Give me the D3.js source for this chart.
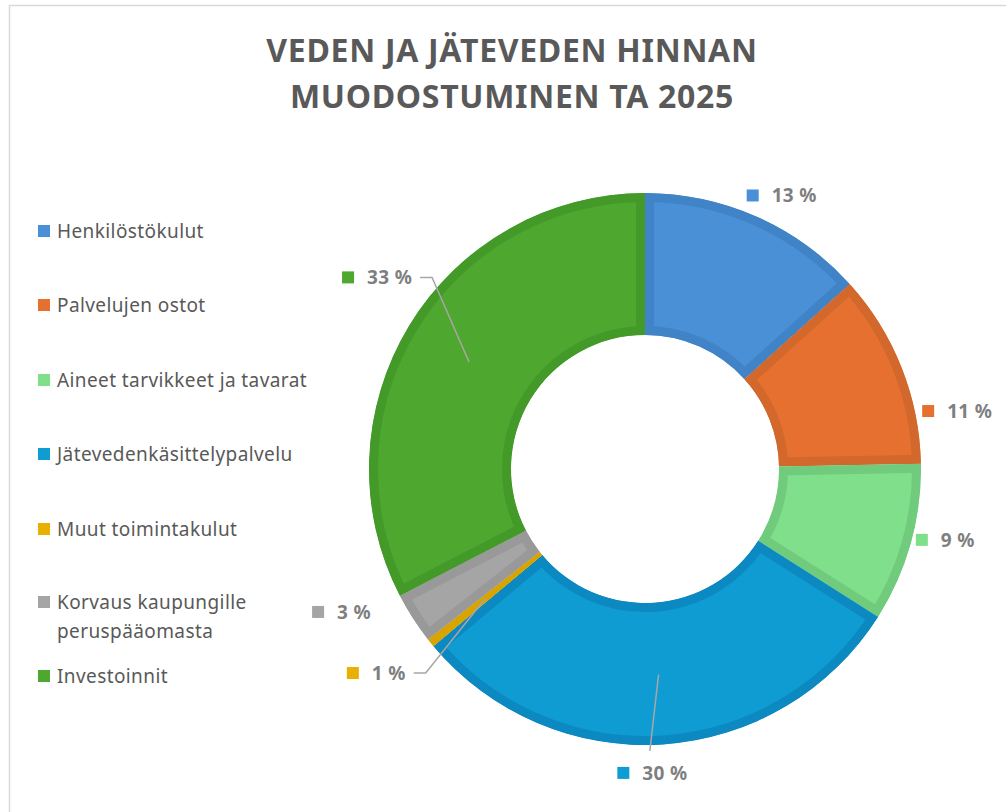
<!DOCTYPE html>
<html>
<head>
<meta charset="utf-8">
<script src="https://cdn.jsdelivr.net/npm/d3@7"></script>
<style>
  body { margin: 0; background: #fff; }
  text { font-family: "Noto Sans", "Open Sans", sans-serif; }
</style>
</head>
<body>
<script>
// data
var categories = ["Henkilöstökulut", "Palvelujen ostot", "Aineet tarvikkeet ja tavarat",
    "Jätevedenkäsittelypalvelu", "Muut toimintakulut", "Korvaus kaupungille peruspääomasta", "Investoinnit"];
var values = [13.3, 11.4, 9.3, 29.9, 0.5, 3.0, 32.6];
var valueLabels = ["13 %", "11 %", "9 %", "30 %", "1 %", "3 %", "33 %"];
var fills = ["#4a90d6", "#e6702f", "#80df8b", "#0f9cd3", "#e8b000", "#a5a5a5", "#4ea72e"];
var borders = ["#4083c6", "#d2682b", "#70cb7c", "#0c89c0", "#d9a300", "#999999", "#449a28"];

// label placement: angle nudge (deg) and radius per slice, leader yes/no
var labelNudge = [2.7, 11.1, -2.4, 2.3, 1.8, 7.5, 4.3];
var labelRad = [306, 318, 309, 304, 337, 335, 329];
var hasLeader = [false, false, false, true, true, false, true];

var width = 1006, height = 812;
var cx = 645, cy = 469, outerR = 276, innerR = 134;

var svg = d3.select("body").append("svg")
    .attr("width", width)
    .attr("height", height);

// chart border
svg.append("rect")
    .attr("x", 9.5).attr("y", 5.5)
    .attr("width", 1100).attr("height", 900)
    .attr("fill", "none")
    .attr("stroke", "#d9d9d9")
    .attr("stroke-width", 1.5);

// title
var title = svg.append("text")
    .attr("text-anchor", "middle")
    .attr("fill", "#595959")
    .style("font-size", "32px")
    .style("font-weight", "bold")
    .style("letter-spacing", "0.7px");
title.append("tspan").attr("x", 512).attr("y", 62).text("VEDEN JA JÄTEVEDEN HINNAN");
title.append("tspan").attr("x", 512).attr("y", 108).text("MUODOSTUMINEN TA 2025");

var pie = d3.pie().sort(null).value(d => d);
var arcs = pie(values);
var arc = d3.arc().innerRadius(innerR).outerRadius(outerR);

var g = svg.append("g").attr("transform", "translate(" + cx + "," + cy + ")");
var defs = svg.append("defs");

arcs.forEach(function (a, i) {
    defs.append("clipPath").attr("id", "clip" + i)
        .append("path").attr("d", arc(a));
    g.append("path")
        .attr("d", arc(a))
        .attr("fill", fills[i])
        .attr("stroke", borders[i])
        .attr("stroke-width", 18)
        .attr("clip-path", "url(#clip" + i + ")");
});

// data labels
function polar(angle, r) {
    return [r * Math.sin(angle), -r * Math.cos(angle)];
}

arcs.forEach(function (a, i) {
    var mid = (a.startAngle + a.endAngle) / 2;
    var la = mid + labelNudge[i] * Math.PI / 180;
    var p = polar(la, labelRad[i]);
    var lab = g.append("g").attr("transform", "translate(" + p[0] + "," + p[1] + ")");
    var t = lab.append("text")
        .attr("x", 12)
        .attr("y", 7)
        .attr("text-anchor", "middle")
        .attr("fill", "#7f7f7f")
        .style("font-size", "19px")
        .style("font-weight", "bold")
        .style("letter-spacing", "0.3px")
        .text(valueLabels[i]);
    var tw = t.node().getComputedTextLength();
    lab.append("rect")
        .attr("x", 12 - tw / 2 - 25).attr("y", -6)
        .attr("width", 12).attr("height", 12)
        .attr("fill", fills[i]);

    if (hasLeader[i]) {
        var end = polar(mid, 206);
        var pts;
        if (Math.abs(Math.sin(la)) > 0.5) {
            // horizontal elbow from right side of label
            var sx = p[0] + 12 + tw / 2 + 8;
            pts = [[sx, p[1]], [sx + 12, p[1]], end];
        } else {
            pts = [[p[0] - 3, p[1] - 22], end];
        }
        g.append("path")
            .attr("d", d3.line()(pts))
            .attr("fill", "none")
            .attr("stroke", "#a6a6a6")
            .attr("stroke-width", 1.5);
    }
});

// legend
var legendY = [231, 305, 380, 454, 529, 602, 676];
var legend = svg.append("g");
categories.forEach(function (c, i) {
    var row = legend.append("g").attr("transform", "translate(38," + legendY[i] + ")");
    row.append("rect")
        .attr("x", 0).attr("y", -6)
        .attr("width", 12).attr("height", 12)
        .attr("fill", fills[i]);
    var t = row.append("text")
        .attr("x", 19).attr("y", 7)
        .attr("fill", "#595959")
        .style("font-size", "19px")
        .style("letter-spacing", "0.4px");
    if (c === "Korvaus kaupungille peruspääomasta") {
        t.append("tspan").attr("x", 19).attr("dy", 0).text("Korvaus kaupungille");
        t.append("tspan").attr("x", 19).attr("dy", 29).text("peruspääomasta");
    } else {
        t.text(c);
    }
});
</script>
</body>
</html>
